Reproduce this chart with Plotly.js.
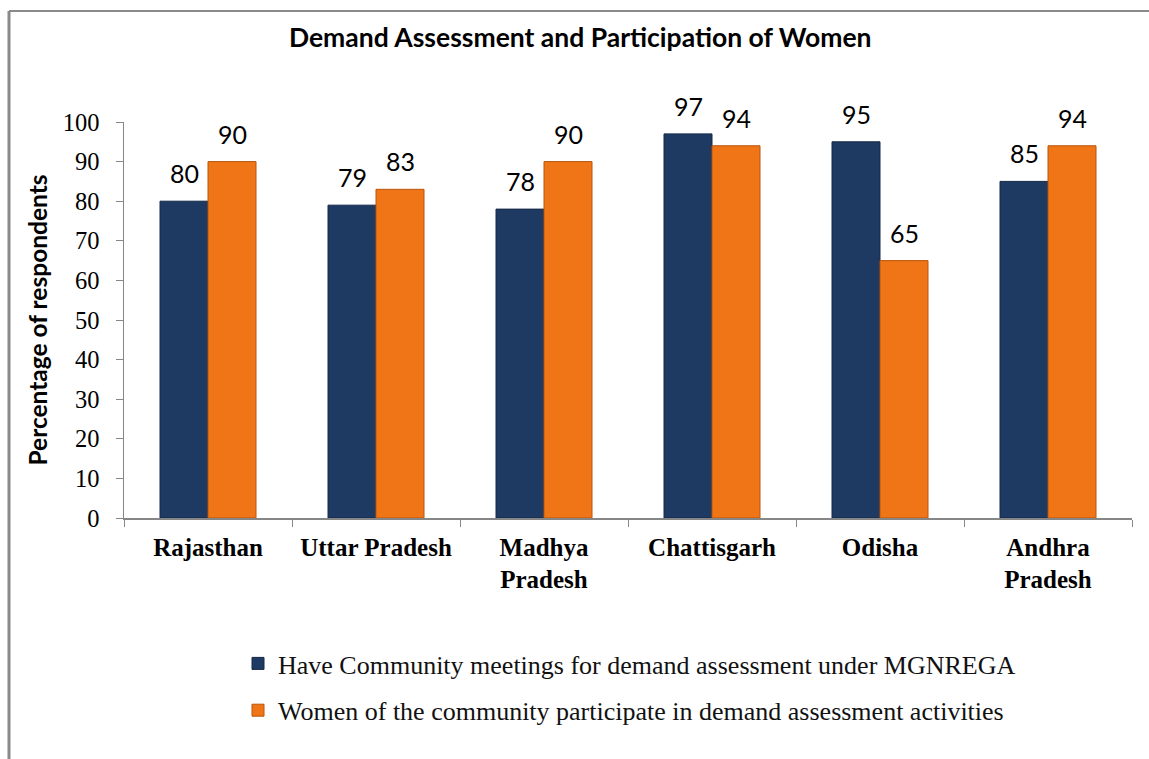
<!DOCTYPE html>
<html><head><meta charset="utf-8">
<script src="https://cdn.plot.ly/plotly-3.0.1.min.js"></script>
<style>html,body{margin:0;padding:0;background:#fff}#chart{width:1149px;height:759px}</style>
</head><body><div id="chart"></div>
<script>
const categories = ["Rajasthan", "Uttar Pradesh", "Madhya<br>Pradesh", "Chattisgarh", "Odisha", "Andhra<br>Pradesh"];
const meetings = [80, 79, 78, 97, 95, 85];
const women = [90, 83, 90, 94, 65, 94];
const seriesNames = [
  "Have Community meetings for demand assessment under MGNREGA",
  "Women of the community participate in demand assessment activities"
];
const yTicks = [0, 10, 20, 30, 40, 50, 60, 70, 80, 90, 100];

const serif = "'Liberation Serif', 'Times New Roman', serif";
const sans = "Lato, Carlito, Calibri, sans-serif";

const traces = [
  {type: "bar", name: seriesNames[0], x: categories, y: meetings, legendgroup: "a",
   marker: {color: "#1f3a62", line: {color: "#142846", width: 1}}, hoverinfo: "y"},
  {type: "bar", name: seriesNames[1], x: categories, y: women, legendgroup: "b",
   marker: {color: "#f07516", line: {color: "#b8560c", width: 1}}, hoverinfo: "y"}
];

const annotations = [];
[meetings, women].forEach((arr, s) => {
  arr.forEach((v, i) => {
    annotations.push({x: categories[i], y: v, xref: "x", yref: "y", text: String(v),
      showarrow: false, yanchor: "bottom", xshift: s === 0 ? -24 : 24, yshift: 11,
      font: {family: sans, size: 25, color: "#000"}});
  });
});

const PW = 1008, PH = 396;
const layout = {
  width: 1149, height: 759,
  margin: {l: 124, r: 17, t: 122, b: 241},
  paper_bgcolor: "#fff", plot_bgcolor: "#fff",
  title: {text: "<b>Demand Assessment and Participation of Women</b>",
    font: {family: sans, size: 26.5, color: "#000"},
    x: 0.505, xanchor: "center", y: 1 - 38/759, yanchor: "middle"},
  barmode: "group", bargap: 0.4286, bargroupgap: 0,
  showlegend: true,
  legend: {xref: "paper", yref: "paper", x: (238 - 124)/PW, y: -(640 - 518)/PH,
    xanchor: "left", yanchor: "top", orientation: "v", tracegroupgap: 10,
    font: {family: serif, size: 26, color: "#111"}, bgcolor: "rgba(0,0,0,0)"},
  xaxis: {type: "category", tickson: "boundaries", ticks: "outside", ticklen: 7,
    tickcolor: "#868686", showline: true, linecolor: "#868686", linewidth: 1.5,
    showgrid: false, tickfont: {family: serif, size: 25, color: "#000", weight: "bold"},
    ticklabelstandoff: 6, fixedrange: true, automargin: false},
  yaxis: {range: [0, 100], tickvals: yTicks, ticktext: yTicks.map(String),
    ticks: "outside", ticklen: 7, tickcolor: "#868686", showline: true,
    linecolor: "#868686", linewidth: 1.5, showgrid: false, zeroline: false,
    tickfont: {family: serif, size: 24.5, color: "#000"}, ticklabelstandoff: 11,
    title: {text: "<b>Percentage of respondents</b>", font: {family: sans, size: 24.5, color: "#000"}, standoff: 8},
    fixedrange: true, automargin: false},
  annotations: annotations,
  shapes: [
    {type: "line", xref: "paper", yref: "paper", x0: -115/PW, x1: 1.05, y0: (518-11)/PH, y1: (518-11)/PH,
     line: {color: "#8a8a8a", width: 2}},
    {type: "line", xref: "paper", yref: "paper", x0: -115/PW, x1: -115/PW, y0: (518-11)/PH, y1: -(759-518)/PH - 0.01,
     line: {color: "#8a8a8a", width: 3}}
  ]
};

Plotly.newPlot("chart", traces, layout, {displayModeBar: false, staticPlot: true});
</script></body></html>
